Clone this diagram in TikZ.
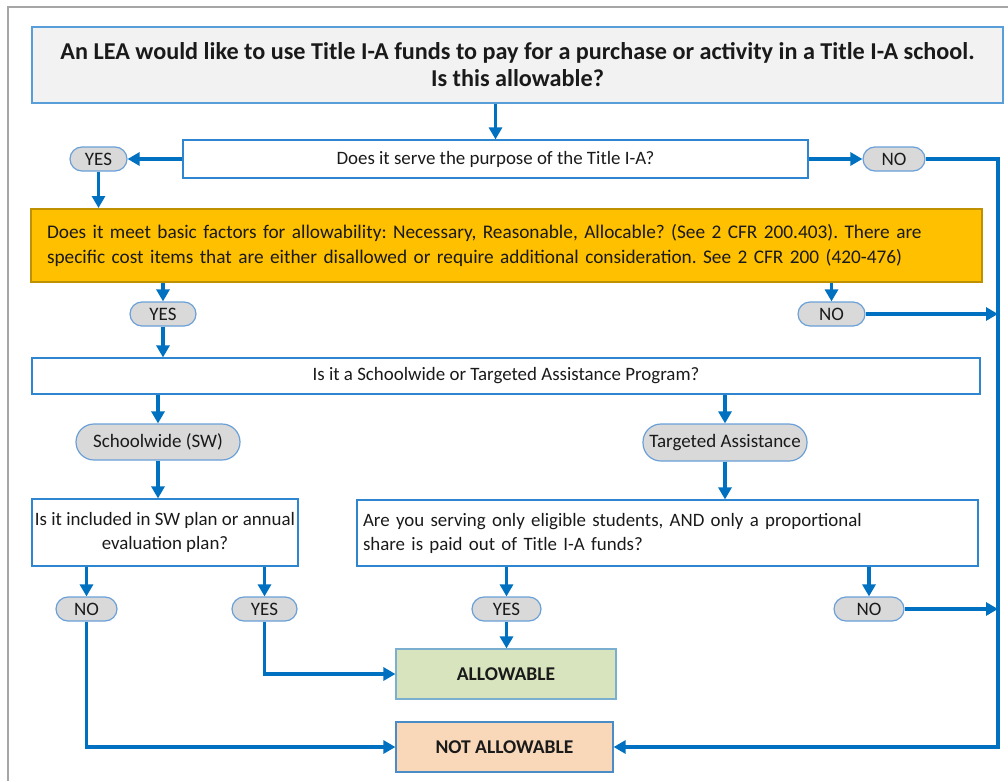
\documentclass[tikz,border=0pt]{standalone}
\usepackage{fontspec}
\setmainfont{Carlito}
\usetikzlibrary{arrows.meta}
\definecolor{arr}{HTML}{0070C0}
\definecolor{bbord}{HTML}{2E86D0}
\definecolor{tfill}{HTML}{F2F2F2}
\definecolor{pfill}{HTML}{D9D9D9}
\definecolor{pbord}{HTML}{6A9FD8}
\definecolor{ofill}{HTML}{FFC000}
\definecolor{obord}{HTML}{BF9000}
\definecolor{gfill}{HTML}{D7E4BD}
\definecolor{gbord}{HTML}{7AAFD0}
\definecolor{rfill}{HTML}{F9D7B9}
\definecolor{rbord}{HTML}{4A8CC8}
\definecolor{txt}{HTML}{1A1A1A}
\frenchspacing
\begin{document}
\begin{tikzpicture}[x=1pt,y=-1pt,
  every node/.style={text=txt},
  box/.style={draw=bbord, line width=1.2pt, inner sep=0pt, font=\fontsize{18.9}{24}\selectfont},
  pill/.style={draw=pbord, fill=pfill, line width=1.2pt, inner sep=0pt, rounded corners=12pt, minimum height=24pt, font=\fontsize{19}{23}\selectfont},
  bigpill/.style={pill, rounded corners=18pt},
  link/.style={draw=arr, line width=3.6pt, -{Triangle[length=12pt,width=13pt]}}
]
\useasboundingbox (0,0) rectangle (1008,781);
\draw[line width=2pt, draw=gray!70] (8,781) -- (8,7) -- (1008,7);

\node[box, fill=tfill, draw=bbord!80, minimum width=971pt, minimum height=76pt, align=center, font=\fontsize{24.2}{27}\selectfont\bfseries] (title) at (517.5,65)
  {An LEA would like to use Title I-A funds to pay for a purchase or activity in a Title I-A school.\\Is this allowable?};
\node[box, minimum width=625pt, minimum height=38pt] (q1) at (495.5,159) {Does it serve the purpose of the Title I-A?};
\node[pill, minimum width=57pt] (yes1) at (98.5,159) {YES};
\node[pill, minimum width=62pt] (no1) at (894,159) {NO};
\node[box, fill=ofill, draw=obord, line width=2pt, text width=919pt, inner xsep=16pt, minimum height=73pt, align=left, font=\fontsize{19.3}{25}\selectfont] (q2) at (506.5,245.5)
  {Does it meet basic factors for allowability: Necessary, Reasonable, Allocable? (See 2 CFR 200.403). There are\\specific cost items that are either disallowed or require additional consideration. See 2 CFR 200 (420-476)};
\node[pill, minimum width=66pt] (yes2) at (163,314) {YES};
\node[pill, minimum width=67pt] (no2) at (831.5,314) {NO};
\node[box, minimum width=948pt, minimum height=36pt] (q3) at (506,376) {Is it a Schoolwide or Targeted Assistance Program?};
\node[bigpill, minimum width=164pt, minimum height=36pt] (sw) at (158,442) {Schoolwide (SW)};
\node[bigpill, minimum width=164pt, minimum height=37pt] (ta) at (725,442.5) {Targeted Assistance};
\node[box, minimum width=266pt, minimum height=67pt, align=center] (q4) at (165,532.5) {Is it included in SW plan or annual\\evaluation plan?};
\node[box, text width=609pt, inner xsep=6pt, minimum height=66pt, align=left] (q5) at (667.5,533) {Are you serving only eligible students, AND only a proportional\\share is paid out of Title I-A funds?};
\node[pill, minimum width=61pt] (no3) at (86.5,609) {NO};
\node[pill, minimum width=65pt] (yes3) at (264.5,609) {YES};
\node[pill, minimum width=69pt] (yes4) at (506.5,609) {YES};
\node[pill, minimum width=70pt] (no4) at (869,609) {NO};
\node[box, fill=gfill, draw=gbord, minimum width=220pt, minimum height=50pt, font=\fontsize{19.5}{24}\selectfont\bfseries] (allow) at (506,674) {ALLOWABLE};
\node[box, fill=rfill, draw=rbord, minimum width=217pt, minimum height=50pt, font=\fontsize{19.5}{24}\selectfont\bfseries] (na) at (504.5,747) {NOT ALLOWABLE};
\coordinate (rail) at (998,0);

\draw[link] (q1.north |- title.south) -- (q1.north);
\draw[link] (q1.west) -- (yes1.east);
\draw[link] (q1.east) -- (no1.west);
\draw[link] (no1.east) -| (rail |- na.east) -- (na.east);
\draw[link] (yes1.south) -- (yes1.south |- q2.north);
\draw[link] (yes2.north |- q2.south) -- (yes2.north);
\draw[link] (no2.north |- q2.south) -- (no2.north);
\draw[link] (no2.east) -- (rail |- no2.east);
\draw[link] (yes2.south) -- (yes2.south |- q3.north);
\draw[link] (sw.north |- q3.south) -- (sw.north);
\draw[link] (ta.north |- q3.south) -- (ta.north);
\draw[link] (sw.south) -- (sw.south |- q4.north);
\draw[link] (ta.south) -- (ta.south |- q5.north);
\draw[link] (no3.north |- q4.south) -- (no3.north);
\draw[link] (yes3.north |- q4.south) -- (yes3.north);
\draw[link] (yes4.north |- q5.south) -- (yes4.north);
\draw[link] (no4.north |- q5.south) -- (no4.north);
\draw[link] (no4.east) -- (rail |- no4.east);
\draw[link] (yes4.south) -- (yes4.south |- allow.north);
\draw[link] (yes3.south) |- (allow.west);
\draw[link] (no3.south) |- (na.west);
\end{tikzpicture}
\end{document}
